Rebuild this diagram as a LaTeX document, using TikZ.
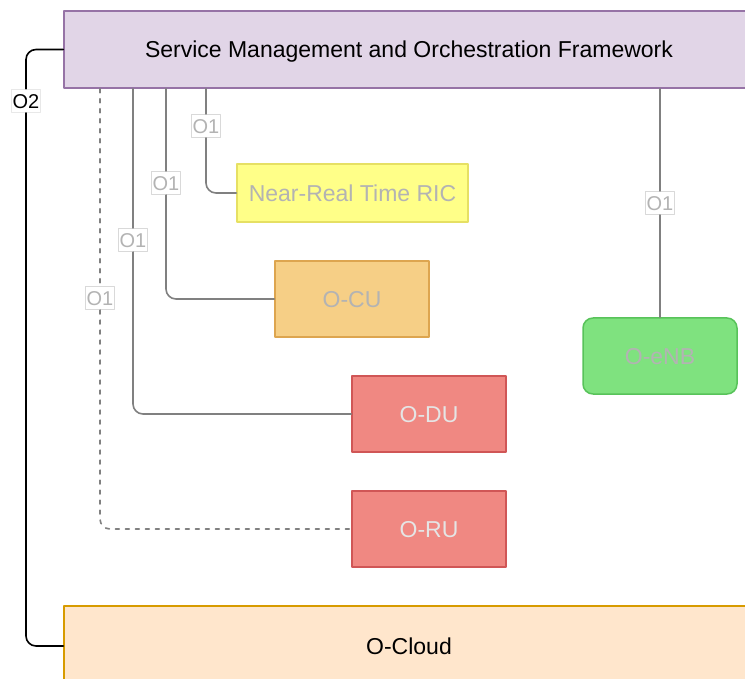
\documentclass[tikz,border=0pt]{standalone}
\usepackage{fontspec}
\setmainfont{Liberation Sans}
\usetikzlibrary{positioning}
\definecolor{smofill}{HTML}{E1D5E7}
\definecolor{smodraw}{HTML}{9673A6}
\definecolor{cloudfill}{HTML}{FFE6CC}
\definecolor{clouddraw}{HTML}{D79B00}
\definecolor{ricfill}{HTML}{FFFF88}
\definecolor{ricdraw}{HTML}{E6E064}
\definecolor{cufill}{HTML}{F6CF86}
\definecolor{cudraw}{HTML}{DDA54F}
\definecolor{dufill}{HTML}{F08882}
\definecolor{dudraw}{HTML}{D05656}
\definecolor{enbfill}{HTML}{7FE27F}
\definecolor{enbdraw}{HTML}{58C35A}
\definecolor{linkgray}{HTML}{808080}
\definecolor{lbltext}{HTML}{B3B3B3}
\definecolor{lblborder}{HTML}{D9D9D9}

\begin{document}
\begin{tikzpicture}[line cap=round,line join=round,x=1pt,y=-1pt,
  box/.style={draw,line width=1.5pt,inner sep=0pt,text height=16.5pt,text depth=0pt,font=\fontsize{23}{27}\selectfont},
  unit/.style={box,minimum width=154pt,minimum height=76pt},
  link/.style={draw=linkgray,line width=1.6pt,rounded corners=10pt},
  lbl/.style={draw=lblborder,fill=white,line width=0.8pt,text=lbltext,inner xsep=1.5pt,inner ysep=4.5pt,text height=14.3pt,text depth=0pt,font=\fontsize{20}{23}\selectfont}]
\useasboundingbox (0,0) rectangle (745,679);
\node[box,fill=smofill,draw=smodraw,minimum width=690pt,minimum height=77pt] (smo) at (409,49.5) {Service Management and Orchestration Framework};
\node[box,fill=cloudfill,draw=clouddraw,minimum width=690pt,minimum height=80pt] (cloud) at (409,646) {O-Cloud};
\node[box,fill=ricfill,draw=ricdraw,text=lbltext,minimum width=231pt,minimum height=58pt] (ric) at (352.5,193) {Near-Real Time RIC};
\node[unit,fill=cufill,draw=cudraw,text=lbltext] (cu) at (352,299) {O-CU};
\node[unit,fill=dufill,draw=dudraw,text=white!90!black] (du) at (429,414) {O-DU};
\node[unit,fill=dufill,draw=dudraw,text=white!90!black] (ru) at (429,529) {O-RU};
\node[unit,fill=enbfill,draw=enbdraw,text=lbltext,rounded corners=10pt] (enb) at (660,356) {O-eNB};
\node[lbl] (lric) at (206,126) {O1};
\node[lbl] (lcu) at (166,183) {O1};
\node[lbl] (ldu) at (133,240) {O1};
\node[lbl] (lru) at (100,298) {O1};
\node[lbl] (lenb) at (660,203) {O1};
\node[lbl,text=black,draw=lblborder!60] (lo2) at (26,101) {O2};
\draw [link] (smo.south -| lric) -- (lric);
\draw [link] (lric) |- (ric);
\draw [link] (smo.south -| lcu) -- (lcu);
\draw [link] (lcu) |- (cu);
\draw [link] (smo.south -| ldu) -- (ldu);
\draw [link] (ldu) |- (du);
\draw [link,dash pattern=on 4pt off 6pt] (smo.south -| lru) -- (lru);
\draw [link,dash pattern=on 4pt off 6pt] (lru) |- (ru);
\draw [link] (smo.south -| lenb) -- (lenb);
\draw [link] (lenb) -- (enb);
\draw [line width=1.6pt,rounded corners=10pt] (smo.west) -| (lo2);
\draw [line width=1.6pt,rounded corners=10pt] (lo2) |- (cloud.west);
\end{tikzpicture}
\end{document}
